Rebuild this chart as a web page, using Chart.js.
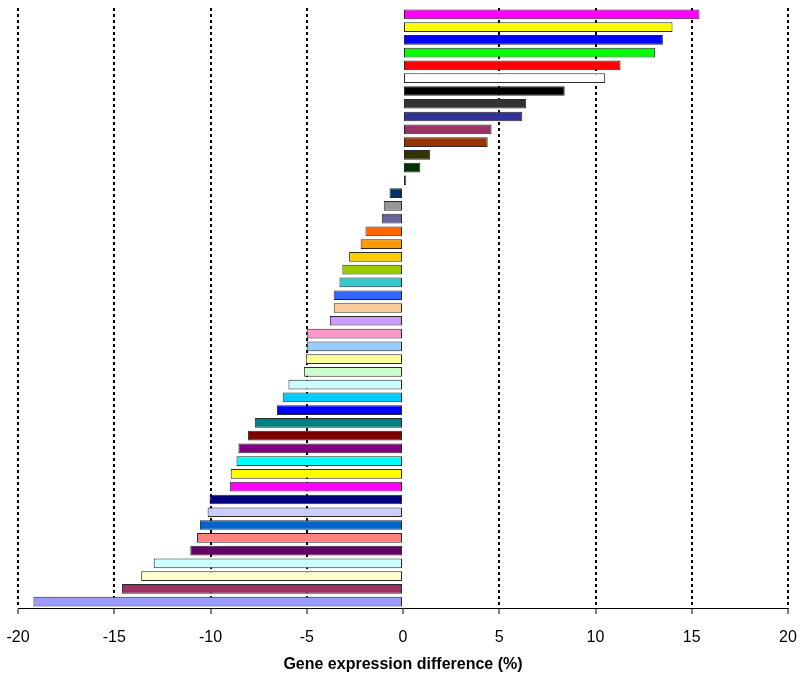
<!DOCTYPE html>
<html>
<head>
<meta charset="utf-8">
<script src="https://cdn.jsdelivr.net/npm/chart.js@4/dist/chart.umd.min.js"></script>
<style>
  html, body { margin: 0; padding: 0; background: #fff; }
  #wrap { width: 800px; height: 679px; position: relative; }
</style>
</head>
<body>
<div id="wrap"><canvas id="geneChart"></canvas></div>
<script>
// Genes, top to bottom
const genes = Array.from({ length: 47 }, (_, i) => 'Gene ' + (i + 1));

// Gene expression difference (%)
const diffs = [
  15.4, 14.0, 13.5, 13.1, 11.3, 10.5, 8.4, 6.4, 6.2, 4.6, 4.4, 1.4, 0.9, 0.17,
  -0.7, -1.0, -1.1, -1.95, -2.2, -2.8, -3.15, -3.3, -3.6, -3.6, -3.8,
  -5.0, -5.0, -5.05, -5.15, -5.95, -6.25, -6.55, -7.7, -8.05, -8.55, -8.65,
  -8.95, -9.0, -10.05, -10.15, -10.55, -10.7, -11.05, -12.95, -13.6, -14.6, -19.2
];

// Bar fills (Excel palette)
const barColors = [
  '#FF00FF', '#FFFF00', '#0000FF', '#00FF00', '#FF0000', '#FFFFFF', '#000000',
  '#333333', '#333399', '#993366', '#993300', '#333300', '#003300', '#339966',
  '#003366', '#969696', '#666699', '#FF6600', '#FF9900', '#FFCC00', '#99CC00',
  '#33CCCC', '#3366FF', '#FFCC99', '#CC99FF', '#FF99CC', '#99CCFF', '#FFFF99',
  '#CCFFCC', '#CCFFFF', '#00CCFF', '#0000FF', '#008080', '#800000', '#800080',
  '#00FFFF', '#FFFF00', '#FF00FF', '#000080', '#CCCCFF', '#0066CC', '#FF8080',
  '#660066', '#CCFFFF', '#FFFFCC', '#993366', '#9999FF'
];

// x axis
const xMin = -20, xMax = 20, xStep = 5;
const xTitle = 'Gene expression difference (%)';

const ctx = document.getElementById('geneChart').getContext('2d');
new Chart(ctx, {
  type: 'bar',
  data: {
    labels: genes,
    datasets: [{
      data: diffs,
      backgroundColor: barColors,
      borderColor: '#2a2a2a',
      borderWidth: 1,
      borderSkipped: false,
      barPercentage: 0.76,
      categoryPercentage: 1
    }]
  },
  options: {
    indexAxis: 'y',
    responsive: true,
    maintainAspectRatio: false,
    animation: false,
    layout: { padding: { left: 18, right: 12, top: 8, bottom: 0 } },
    plugins: { legend: { display: false }, tooltip: { enabled: false } },
    scales: {
      y: { display: false },
      x: {
        min: xMin, max: xMax,
        // keep the plot edges where the reference has them
        afterFit: s => { s.height = 71; s.paddingLeft = 0; s.paddingRight = 0; },
        ticks: {
          stepSize: xStep,
          padding: 14,
          color: '#000',
          maxRotation: 0,
          font: { family: 'Liberation Sans', size: 16 }
        },
        grid: {
          color: c => (c.tick && c.tick.value === 0) ? 'rgba(0,0,0,0)' : '#000',
          lineWidth: 2,
          tickColor: '#000',
          tickWidth: 1,
          tickLength: 6,
          tickBorderDash: []
        },
        border: { display: true, color: '#000', width: 1, dash: [3, 3] },
        title: {
          display: true,
          text: xTitle,
          color: '#000',
          padding: { top: 0, bottom: 5 },
          font: { family: 'Liberation Sans', size: 16, weight: 'bold' }
        }
      }
    }
  }
});
</script>
</body>
</html>
